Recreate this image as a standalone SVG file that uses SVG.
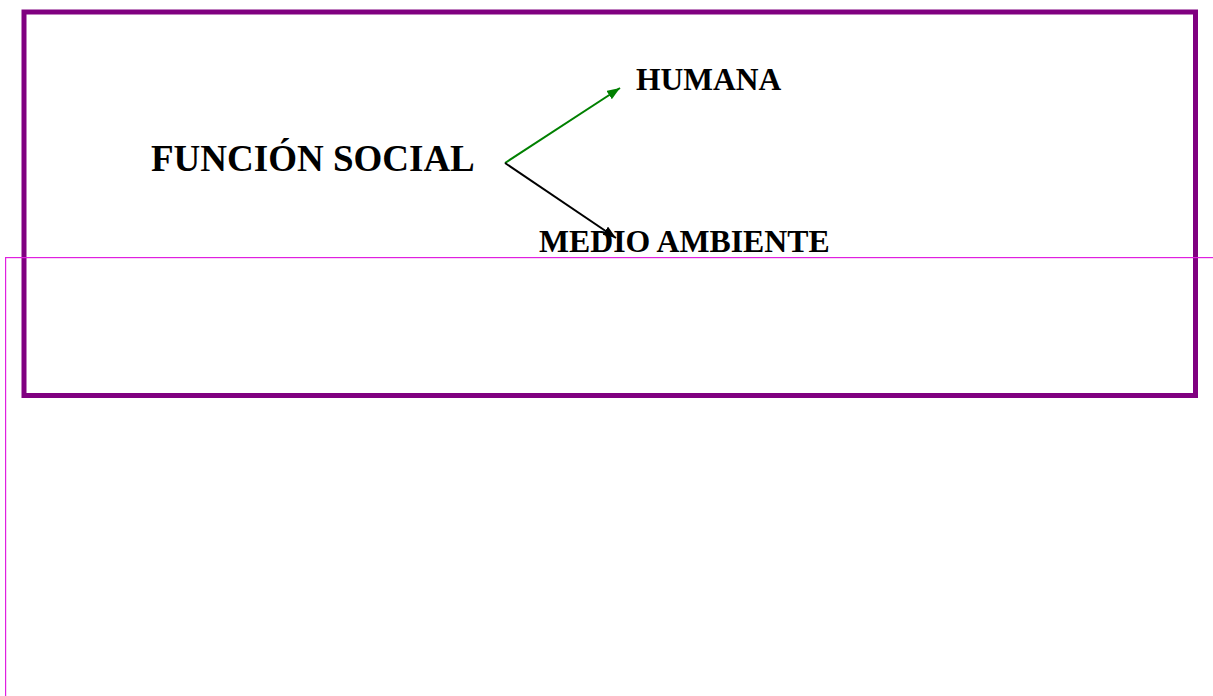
<svg xmlns="http://www.w3.org/2000/svg" width="1213" height="696" viewBox="0 0 1213 696">
<style>
.t{font-family:"Liberation Serif","Times New Roman",serif;font-weight:bold;fill:#000}
.frame{fill:none;stroke:#800080;stroke-width:5}
</style>
<defs>
<marker id="ag" markerUnits="userSpaceOnUse" markerWidth="14" markerHeight="12" refX="13" refY="5" orient="auto"><path d="M0,0 L13,5 L0,10 Z" fill="#008000"/></marker>
<marker id="ab" markerUnits="userSpaceOnUse" markerWidth="14" markerHeight="12" refX="13" refY="5" orient="auto"><path d="M0,0 L13,5 L0,10 Z" fill="#000"/></marker>
</defs>
<rect class="frame" x="24" y="12" width="1171.5" height="383.5"/>
<g id="funcion-social"><text class="t" x="151" y="171" font-size="37">FUNCIÓN SOCIAL</text></g>
<g id="humana"><text class="t" x="636" y="90" font-size="31.5">HUMANA</text></g>
<g id="medio-ambiente"><text class="t" x="539" y="252" font-size="31.8">MEDIO AMBIENTE</text></g>
<g id="connectors">
<line x1="505" y1="163" x2="620" y2="88" stroke="#008000" stroke-width="2" marker-end="url(#ag)"/>
<line x1="505" y1="163" x2="616" y2="238" stroke="#000" stroke-width="2" marker-end="url(#ab)"/>
</g>
<g fill="#e020e0">
<rect x="5" y="257" width="1208" height="1.2"/>
<rect x="5" y="257" width="1.2" height="439"/>
</g>
</svg>
